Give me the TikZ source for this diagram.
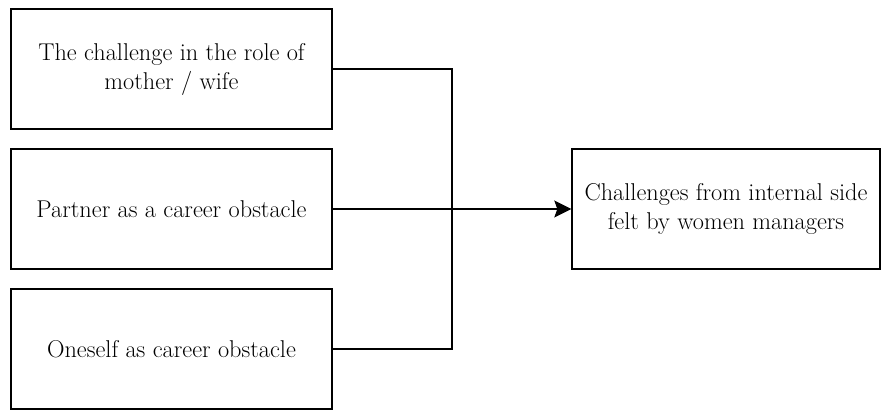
\documentclass[tikz,border=0pt]{standalone}
\usetikzlibrary{arrows.meta}
\begin{document}
\begin{tikzpicture}[x=1pt,y=-1pt,
  box/.style={draw=black, line width=1.4pt, minimum width=321pt, minimum height=120pt,
    align=center, inner sep=0pt, text=black, font=\fontsize{24.3}{29}\selectfont},
  conn/.style={draw=black, line width=1.3pt}]
\useasboundingbox (0,0) rectangle (882,410);
\node[box] (b1) at (171.5,69) {The challenge in the role of\\mother / wife};
\node[box] (b2) at (171.5,209) {Partner as a career obstacle};
\node[box] (b3) at (171.5,349) {Oneself as career obstacle};
\node[box, minimum width=308pt] (r) at (726,209) {Challenges from internal side\\felt by women managers};
\coordinate (j) at (452,209);
\draw[conn] (b1.east) -| (j);
\draw[conn] (b3.east) -| (j);
\draw[conn, -{Stealth[length=17pt, width=17pt, inset=3pt]}] (b2.east) -- (r.west);
\end{tikzpicture}
\end{document}
